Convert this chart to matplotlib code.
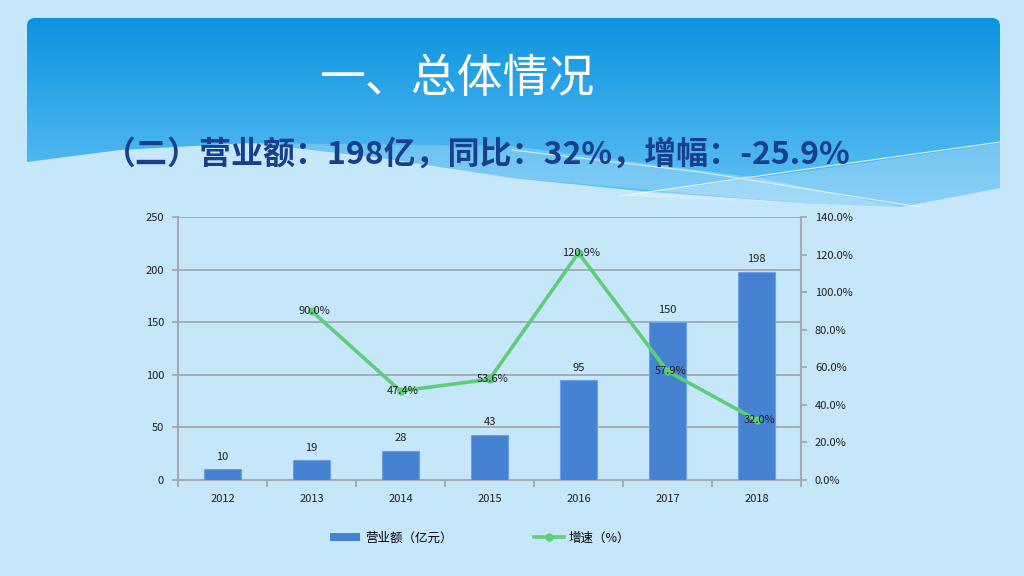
import numpy as np
import matplotlib.pyplot as plt
from matplotlib.path import Path
from matplotlib.patches import PathPatch, Polygon
from matplotlib.lines import Line2D
from matplotlib.patches import Patch

plt.rcParams['font.family'] = ['Noto Sans CJK SC', 'DejaVu Sans']

# chart data
years = ['2012', '2013', '2014', '2015', '2016', '2017', '2018']
revenue = [10, 19, 28, 43, 95, 150, 198]          # 营业额（亿元）
growth_years = ['2013', '2014', '2015', '2016', '2017', '2018']
growth = [90.0, 47.4, 53.6, 120.9, 57.9, 32.0]    # 增速（%）

title = '一、总体情况'
subtitle = '（二）营业额：198亿，同比：32%，增幅：-25.9%'

bg_color = '#C6E6FA'
bar_color = '#4682D2'
line_color = '#5DCF78'
grid_color = '#A3A9AE'

fig = plt.figure(figsize=(10.24, 5.76), dpi=100)
fig.patch.set_facecolor(bg_color)

# ---- slide background (header band with waves), pixel coordinates
bg = fig.add_axes([0, 0, 1, 1], zorder=-1)
bg.set_xlim(0, 1024)
bg.set_ylim(576, 0)
bg.axis('off')

wx = np.array([27, 120, 250, 380, 512, 650, 800, 900, 1000])
wy = np.array([162, 150, 143, 158, 178, 192, 203, 207, 188])
r = 8
verts = [(27, 18 + r), (27, 18), (27 + r, 18), (1000 - r, 18), (1000, 18), (1000, 18 + r)]
codes = [Path.MOVETO, Path.CURVE3, Path.CURVE3, Path.LINETO, Path.CURVE3, Path.CURVE3]
for x, y in zip(wx[::-1], wy[::-1]):
    verts.append((x, y))
    codes.append(Path.LINETO)
verts.append((27, 18 + r))
codes.append(Path.CLOSEPOLY)
header = PathPatch(Path(verts, codes), facecolor='none', edgecolor='none')
bg.add_patch(header)

grad = np.linspace(0, 1, 256)[:, None]
c_top = np.array([12, 147, 224]) / 255
c_bot = np.array([100, 195, 245]) / 255
img = c_top + (c_bot - c_top) * grad[..., None]
img = np.repeat(img, 2, axis=1)
im = bg.imshow(img, extent=(27, 1000, 210, 18), aspect='auto', zorder=0)
im.set_clip_path(header)

# lighter wave bands on the right
bg.add_patch(Polygon([(250, 143), (512, 146), (760, 178), (900, 207), (800, 203), (512, 178)],
                     closed=True, facecolor='white', alpha=0.22, edgecolor='none', zorder=1))
bg.add_patch(Polygon([(620, 196), (800, 172), (1000, 143), (1000, 188), (900, 207)],
                     closed=True, facecolor='white', alpha=0.25, edgecolor='none', zorder=1))
bg.plot([620, 800, 1000], [196, 170, 142], color='white', lw=0.8, alpha=0.8, zorder=2)
bg.plot([512, 700, 920], [150, 172, 207], color='white', lw=0.8, alpha=0.7, zorder=2)

fig.text(320 / 1024, 1 - 79 / 576, title, color='white', fontsize=33,
         fontweight='light', ha='left', va='center')
fig.text(104 / 1024, 1 - 155 / 576, subtitle, color='#183F8C', fontsize=23,
         fontweight='bold', ha='left', va='center')

# ---- chart
ax = fig.add_axes([178 / 1024, 1 - 480 / 576, 623 / 1024, 263 / 576])
ax.set_facecolor('none')
x = np.arange(len(years))
bars = ax.bar(x, revenue, width=0.41, color=bar_color, edgecolor='#6E9FE2',
              linewidth=0.8, zorder=3)
for xi, v in zip(x, revenue):
    ax.text(xi, v + 7, str(v), ha='center', va='bottom', fontsize=8, color='#222222')

ax.set_xlim(-0.5, len(years) - 0.5)
ax.set_ylim(0, 250)
ax.set_yticks(np.arange(0, 251, 50))
ax.grid(axis='y', color=grid_color, lw=1.3, zorder=1)
ax.set_xticks(x)
ax.set_xticklabels(years)
ax.set_xticks(np.arange(-0.5, len(years), 1), minor=True)
ax.tick_params(axis='x', which='major', length=0, pad=10, labelsize=8, labelcolor='#222222')
ax.tick_params(axis='x', which='minor', length=5, width=1.3, color=grid_color)
ax.tick_params(axis='y', length=4, width=1.3, color=grid_color, labelsize=8,
               labelcolor='#222222', pad=6)
for side in ['left', 'bottom', 'right']:
    ax.spines[side].set_color(grid_color)
    ax.spines[side].set_linewidth(1.5)
ax.spines['top'].set_visible(False)

ax2 = ax.twinx()
gx = [years.index(y) for y in growth_years]
ax2.plot(gx, growth, color=line_color, lw=2.6, marker='o', markersize=5, zorder=4)
for xi, v in zip(gx, growth):
    ax2.text(xi + 0.03, v, f'{v:.1f}%', ha='center', va='center', fontsize=8,
             color='#222222', zorder=6)
ax2.set_ylim(0, 140)
ax2.set_yticks(np.arange(0, 141, 20))
ax2.set_yticklabels([f'{v:.1f}%' for v in np.arange(0, 141, 20)])
ax2.tick_params(axis='y', length=4, width=1.3, color=grid_color, labelsize=8,
                labelcolor='#222222', pad=6)
for side in ['left', 'bottom', 'right', 'top']:
    ax2.spines[side].set_visible(False)

handles = [Patch(facecolor=bar_color, edgecolor='none'),
           Line2D([0], [0], color=line_color, lw=2.6, marker='o', markersize=5)]
fig.legend(handles, ['营业额（亿元）', '增速（%）'], loc='center',
           bbox_to_anchor=(480 / 1024, 1 - 538 / 576), ncol=2, frameon=False,
           fontsize=9, handlelength=2.4, handleheight=0.6, columnspacing=6.5,
           handletextpad=0.4)

fig.savefig('out.png', dpi=100, facecolor=fig.get_facecolor())
